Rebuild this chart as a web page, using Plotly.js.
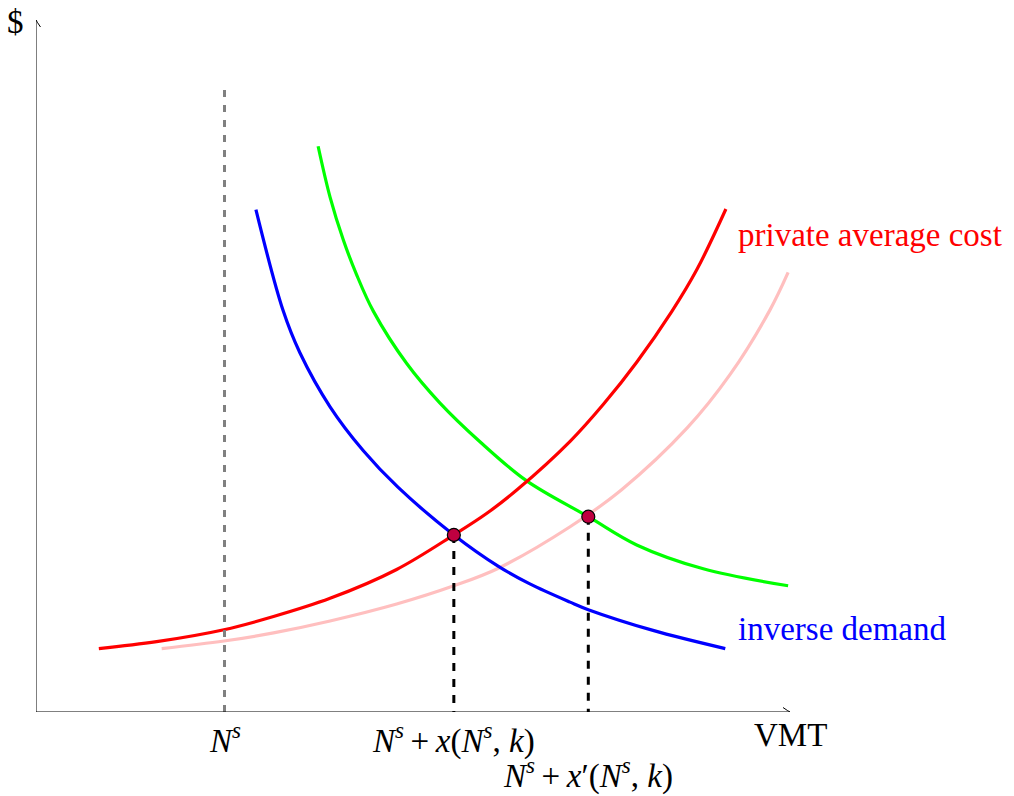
<!DOCTYPE html>
<html>
<head>
<meta charset="utf-8">
<script src="https://cdn.plot.ly/plotly-3.0.1.min.js"></script>
<style>html,body{margin:0;padding:0;background:#fff;}#chart{width:1014px;height:796px;}</style>
</head>
<body>
<div id="chart"></div>
<script>
// ---- values (TikZ-like units) ----
const redX   = [1.00, 1.92, 2.99, 3.78, 4.68, 5.74, 6.65, 7.17, 7.67, 8.50, 9.03, 9.56, 10.12, 10.52, 10.98];
const redY   = [1.01, 1.12, 1.31, 1.52, 1.81, 2.27, 2.82, 3.16, 3.55, 4.31, 4.90, 5.57, 6.38, 7.05, 8.01];
const pinkX  = [2.00, 2.99, 3.78, 4.68, 5.74, 6.65, 7.36, 8.50, 9.32, 10.36, 11.05, 11.68, 11.97];
const pinkY  = [1.01, 1.13, 1.26, 1.45, 1.72, 2.01, 2.29, 2.95, 3.54, 4.52, 5.38, 6.40, 7.00];
const blueX  = [3.50, 3.93, 4.20, 4.68, 5.21, 5.76, 6.65, 7.36, 7.86, 8.50, 8.79, 9.82, 10.97];
const blueY  = [8.00, 6.40, 5.72, 4.86, 4.16, 3.58, 2.82, 2.32, 2.04, 1.75, 1.63, 1.30, 1.01];
const greenX = [4.49, 4.68, 4.89, 5.10, 5.37, 5.90, 6.43, 7.07, 7.81, 8.79, 9.56, 10.62, 11.97];
const greenY = [9.01, 8.20, 7.52, 6.97, 6.38, 5.55, 4.92, 4.30, 3.68, 3.11, 2.66, 2.28, 2.01];
const nsX = 3;          // N^s position
const nsTop = 10;       // top of grey dashed line
const eqX = [6.65, 8.79];
const eqY = [2.82, 3.11];
const xLabels = ['<i>N</i><sup><i>s</i></sup>',
                 '<i>N</i><sup><i>s</i></sup>\u2009+\u2009<i>x</i>(<i>N</i><sup><i>s</i></sup>, <i>k</i>)',
                 '<i>N</i><sup><i>s</i></sup>\u2009+\u2009<i>x</i>′(<i>N</i><sup><i>s</i></sup>, <i>k</i>)'];
const curveLabels = ['private average cost', 'inverse demand'];
const axisLabels = ['VMT', '$'];

const xMax = 12, yMax = 11.02;
const serif = 'Liberation Serif, DejaVu Serif, serif';
const FS = 33;

function curve(x, y, color) {
  return {x: x, y: y, type: 'scatter', mode: 'lines', cliponaxis: false,
          line: {color: color, width: 3.2, shape: 'spline', smoothing: 1}, hoverinfo: 'skip'};
}
const traces = [
  curve(greenX, greenY, '#00FF00'),
  curve(pinkX, pinkY, '#FFBFBF'),
  curve(redX, redY, '#FF0000'),
  curve(blueX, blueY, '#0000FF'),
  {x: [nsX, nsX], y: [0, nsTop], type: 'scatter', mode: 'lines', cliponaxis: false,
   line: {color: '#808080', width: 3, dash: '7px,8px'}, hoverinfo: 'skip'},
  {x: [eqX[0], eqX[0]], y: [eqY[0], 0], type: 'scatter', mode: 'lines', cliponaxis: false,
   line: {color: '#000000', width: 3, dash: '8px,8px'}, hoverinfo: 'skip'},
  {x: [eqX[1], eqX[1]], y: [eqY[1], 0], type: 'scatter', mode: 'lines', cliponaxis: false,
   line: {color: '#000000', width: 3, dash: '8px,8px'}, hoverinfo: 'skip'},
  {x: eqX, y: eqY, type: 'scatter', mode: 'markers', cliponaxis: false,
   marker: {size: 13, color: '#BF0040', line: {color: '#000000', width: 1.2}}, hoverinfo: 'skip'}
];

const shapes = [
  {type: 'line', xref: 'x', yref: 'y', x0: 0, y0: 0, x1: xMax, y1: 0, line: {color: '#000', width: 1}},
  {type: 'line', xref: 'x', yref: 'y', x0: 0, y0: 0, x1: 0, y1: yMax, line: {color: '#000', width: 1}},
  {type: 'path', xref: 'x', yref: 'y', xsizemode: 'pixel', ysizemode: 'pixel', xanchor: xMax, yanchor: 0,
   path: 'M -7,4.5 Q -2,1 0,0 Q -2,-1 -7,-4.5', line: {color: '#000', width: 1}},
  {type: 'path', xref: 'x', yref: 'y', xsizemode: 'pixel', ysizemode: 'pixel', xanchor: 0, yanchor: yMax,
   path: 'M -4.5,-7 Q -1,-2 0,0 Q 1,-2 4.5,-7', line: {color: '#000', width: 1}}
];

const annotations = [
  {x: nsX, y: 0, xref: 'x', yref: 'y', text: xLabels[0], showarrow: false, yanchor: 'top', xanchor: 'center', yshift: -3,
   font: {family: serif, size: FS, color: '#000'}},
  {x: eqX[0], y: 0, xref: 'x', yref: 'y', text: xLabels[1], showarrow: false, yanchor: 'top', xanchor: 'center', yshift: -3,
   font: {family: serif, size: FS, color: '#000'}},
  {x: eqX[1], y: 0, xref: 'x', yref: 'y', text: xLabels[2], showarrow: false, yanchor: 'top', xanchor: 'center', yshift: -38,
   font: {family: serif, size: FS, color: '#000'}},
  {x: xMax, y: 0, xref: 'x', yref: 'y', text: axisLabels[0], showarrow: false, yanchor: 'top', xanchor: 'center', yshift: -3,
   font: {family: serif, size: FS, color: '#000'}},
  {x: 0, y: yMax, xref: 'x', yref: 'y', text: axisLabels[1], showarrow: false, yanchor: 'middle', xanchor: 'right', xshift: -10, yshift: -2,
   font: {family: serif, size: FS, color: '#000'}},
  {x: redX[redX.length - 1], y: redY[redY.length - 1], xref: 'x', yref: 'y', text: curveLabels[0], showarrow: false,
   xanchor: 'left', yanchor: 'middle', xshift: 10, yshift: -26, font: {family: serif, size: FS, color: '#FF0000'}},
  {x: blueX[blueX.length - 1], y: blueY[blueY.length - 1], xref: 'x', yref: 'y', text: curveLabels[1], showarrow: false,
   xanchor: 'left', yanchor: 'middle', xshift: 11, yshift: 20, font: {family: serif, size: FS, color: '#0000FF'}}
];

const layout = {
  width: 1014, height: 796,
  margin: {l: 36, r: 224, t: 20, b: 84, pad: 0},
  paper_bgcolor: '#fff', plot_bgcolor: '#fff',
  showlegend: false,
  xaxis: {range: [0, xMax], visible: false, fixedrange: true},
  yaxis: {range: [0, yMax], visible: false, fixedrange: true},
  shapes: shapes,
  annotations: annotations
};

Plotly.newPlot('chart', traces, layout, {staticPlot: true, displayModeBar: false});
</script>
</body>
</html>
